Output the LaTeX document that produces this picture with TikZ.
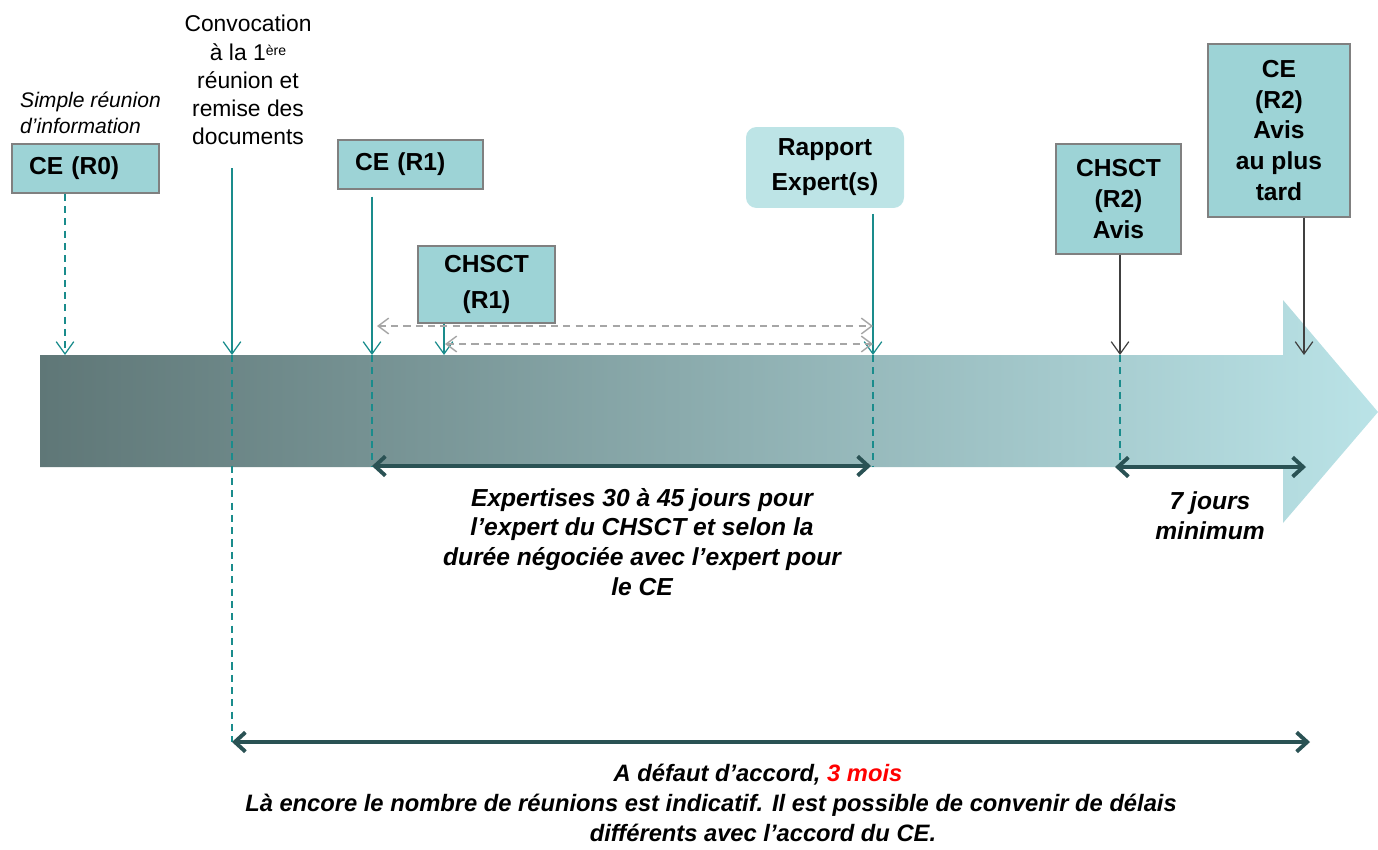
\documentclass[tikz,border=0pt]{standalone}
\usepackage{fontspec}
\setmainfont{Liberation Sans}
\usetikzlibrary{arrows.meta}
\definecolor{boxfill}{HTML}{9DD3D6}
\definecolor{rapfill}{HTML}{BDE4E6}
\definecolor{tealline}{HTML}{1A8C8C}
\definecolor{darkline}{HTML}{2A5254}
\definecolor{bandleft}{HTML}{5F7777}
\definecolor{bandright}{HTML}{BAE3E7}

\begin{document}
\begin{tikzpicture}[x=0.02cm,y=-0.02cm,
    box/.style={draw=gray,fill=boxfill,line width=0.8pt,align=center,inner sep=0pt,
      font=\fontsize{14}{17.5}\selectfont\bfseries},
    tick/.style={tealline,line width=0.7pt,-{Straight Barb[length=7pt,width=10pt]}},
    tickdash/.style={tealline,line width=0.7pt,dash pattern=on 4pt off 3pt},
    blacktick/.style={black!75,line width=0.7pt,-{Straight Barb[length=7pt,width=10pt]}},
    grayarr/.style={gray!70,line width=0.8pt,dash pattern=on 4pt off 3pt,
      {Straight Barb[length=6pt,width=9pt]}-{Straight Barb[length=6pt,width=9pt]}},
    span/.style={darkline,line width=2.2pt,
      {Straight Barb[length=6pt,width=11pt]}-{Straight Barb[length=6pt,width=11pt]}},
    note/.style={align=center,font=\fontsize{14}{17}\selectfont\bfseries\itshape},
    foot/.style={align=center,font=\fontsize{13.5}{16}\selectfont\bfseries\itshape}]
    \useasboundingbox (0,0) rectangle (1378,849);
    \shade[left color=bandleft,right color=bandright] (40,355) -- (1283,355) -- (1283,300)
      -- (1378,412) -- (1283,523) -- (1283,467) -- (40,467) -- cycle;
    \coordinate (t0) at (65,355);
    \coordinate (t1) at (232,355);
    \coordinate (t2) at (372,355);
    \coordinate (t3) at (444,355);
    \coordinate (t4) at (873,355);
    \coordinate (t5) at (1120,355);
    \coordinate (t6) at (1304,355);
    \coordinate (b2) at (372,467);
    \coordinate (b4) at (873,467);
    \coordinate (b5) at (1120,467);
    \coordinate (s1l) at (372,466);
    \coordinate (s1r) at (871,466);
    \coordinate (s2l) at (1115,467);
    \coordinate (s2r) at (1306,467);
    \coordinate (s3l) at (232,742);
    \coordinate (s3r) at (1310,742);
    \coordinate (g1l) at (377,326);
    \coordinate (g1r) at (873,326);
    \coordinate (g2l) at (445,344);
    \coordinate (g2r) at (873,344);
    \node[align=left,anchor=north west,font=\fontsize{12}{14.5}\selectfont\itshape] (info) at (14,86) {Simple réunion\\d’information};
    \node[align=center,font=\fontsize{13}{16}\selectfont] (conv) at (248,80) {Convocation\\à la 1{\fontsize{8}{8}\selectfont\raisebox{0.6ex}{ère}}\\réunion et\\remise des\\documents};
    \node[box,align=left,text width=2.26cm,minimum width=2.94cm,minimum height=0.98cm] (ce0) at (85.5,168.5) {CE (R0)};
    \node[box,align=left,text width=2.22cm,minimum width=2.9cm,minimum height=0.98cm] (ce1) at (410.5,164.5) {CE (R1)};
    \node[box,minimum width=2.74cm,minimum height=1.54cm,font=\fontsize{14}{20}\selectfont\bfseries] (chsct1) at (486.5,284.5) {CHSCT\\(R1)};
    \node[box,draw=none,fill=rapfill,rounded corners=6pt,minimum width=3.16cm,minimum height=1.62cm,font=\fontsize{14}{20}\selectfont\bfseries] (rapport) at (825,167.5) {Rapport\\Expert(s)};
    \node[box,minimum width=2.5cm,minimum height=2.2cm] (chsct2) at (1118.5,199) {CHSCT\\(R2)\\Avis};
    \node[box,minimum width=2.84cm,minimum height=3.46cm] (ce2) at (1279,130.5) {CE\\(R2)\\Avis\\au plus\\tard};
    \draw[tick,dash pattern=on 4pt off 3pt] (ce0.south -| t0) -- (t0);
    \draw[tick,shorten <=10pt] (conv.south -| t1) -- (t1);
    \draw[tick,shorten <=4pt] (ce1.south -| t2) -- (t2);
    \draw[tick] (chsct1.south -| t3) -- (t3);
    \draw[tick,shorten <=3pt] (rapport.south -| t4) -- (t4);
    \draw[blacktick] (chsct2.south -| t5) -- (t5);
    \draw[blacktick] (ce2.south -| t6) -- (t6);
    \draw[tickdash] (t1) -- (s3l);
    \draw[tickdash] (t2) -- (b2);
    \draw[tickdash] (t4) -- (b4);
    \draw[tickdash] (t5) -- (b5);
    \draw[grayarr] (g1l) -- (g1r);
    \draw[grayarr] (g2l) -- (g2r);
    \draw[span] (s1l) -- (s1r);
    \draw[span] (s2l) -- (s2r);
    \draw[span] (s3l) -- (s3r);
    \node[note] (expertise) at (642,542) {Expertises 30 à 45 jours pour\\l’expert du CHSCT et selon la\\durée négociée avec l’expert pour\\le CE};
    \node[note] (septj) at (1210,516) {7 jours\\minimum};
    \node[foot] (defaut1) at (758,775) {A défaut d’accord, \textcolor{red}{3 mois}};
    \node[foot] (defaut2) at (711,805) {Là encore le nombre de réunions est indicatif. Il est possible de convenir de délais};
    \node[foot] (defaut3) at (763,833) {différents avec l’accord du CE.};
\end{tikzpicture}
\end{document}
